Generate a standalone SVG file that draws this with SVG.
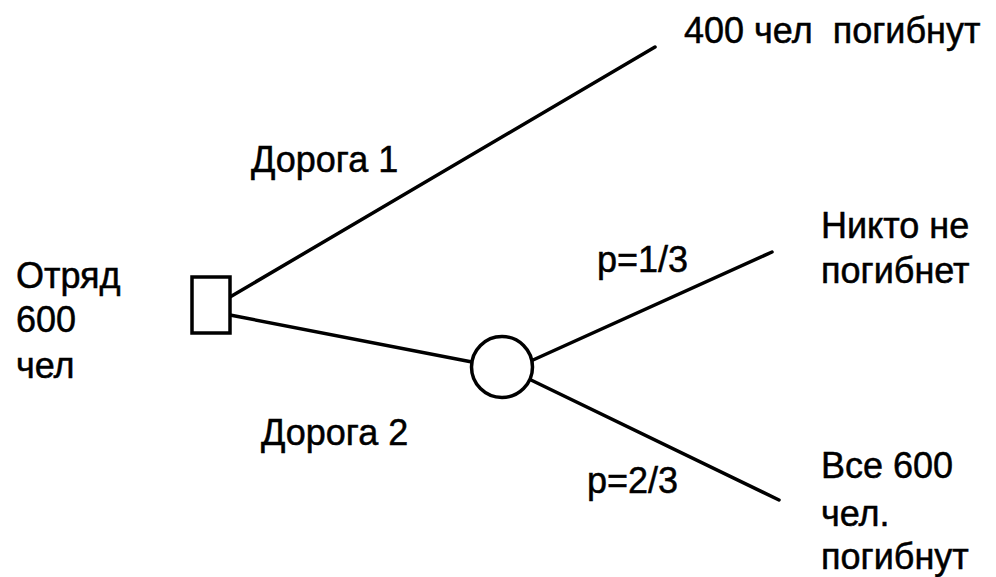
<svg xmlns="http://www.w3.org/2000/svg" width="996" height="577" viewBox="0 0 996 577">
  <style>
    .edge { stroke: #000; stroke-width: 3.5; fill: none; stroke-linecap: round; }
    .shape { stroke: #000; stroke-width: 3.5; fill: #fff; }
    text { font-family: "Liberation Sans", Arial, sans-serif; font-size: 36px; fill: #000; stroke: #000; stroke-width: 0.5; }
  </style>
  <rect width="996" height="577" fill="#fff"/>

  <!-- branches of the decision tree -->
  <g id="connectors">
    <line class="edge" x1="230" y1="297" x2="655" y2="47"/>
    <line class="edge" x1="230" y1="315" x2="472" y2="362"/>
    <line class="edge" x1="533" y1="360" x2="772" y2="252"/>
    <line class="edge" x1="531" y1="380" x2="779" y2="500"/>
  </g>

  <!-- decision node -->
  <g id="decision">
    <rect class="shape" x="192" y="277" width="38" height="56"/>
  </g>

  <!-- chance node -->
  <g id="chance">
    <circle class="shape" cx="502" cy="367" r="30.5"/>
  </g>

  <g id="start-label">
    <text x="16" y="288">Отряд</text>
    <text x="16" y="332">600</text>
    <text x="16" y="378">чел</text>
  </g>

  <g id="road1-label">
    <text x="251" y="172">Дорога 1</text>
  </g>

  <g id="road2-label">
    <text x="261" y="445">Дорога 2</text>
  </g>

  <g id="p1-label">
    <text x="597" y="272">p=1/3</text>
  </g>

  <g id="p2-label">
    <text x="587" y="493">p=2/3</text>
  </g>

  <g id="outcome-road1">
    <text x="684" y="43" xml:space="preserve">400 чел  погибнут</text>
  </g>

  <g id="outcome-none">
    <text x="821" y="238">Никто не</text>
    <text x="821" y="283">погибнет</text>
  </g>

  <g id="outcome-all">
    <text x="821" y="478">Все 600</text>
    <text x="821" y="526">чел.</text>
    <text x="821" y="569">погибнут</text>
  </g>
</svg>
